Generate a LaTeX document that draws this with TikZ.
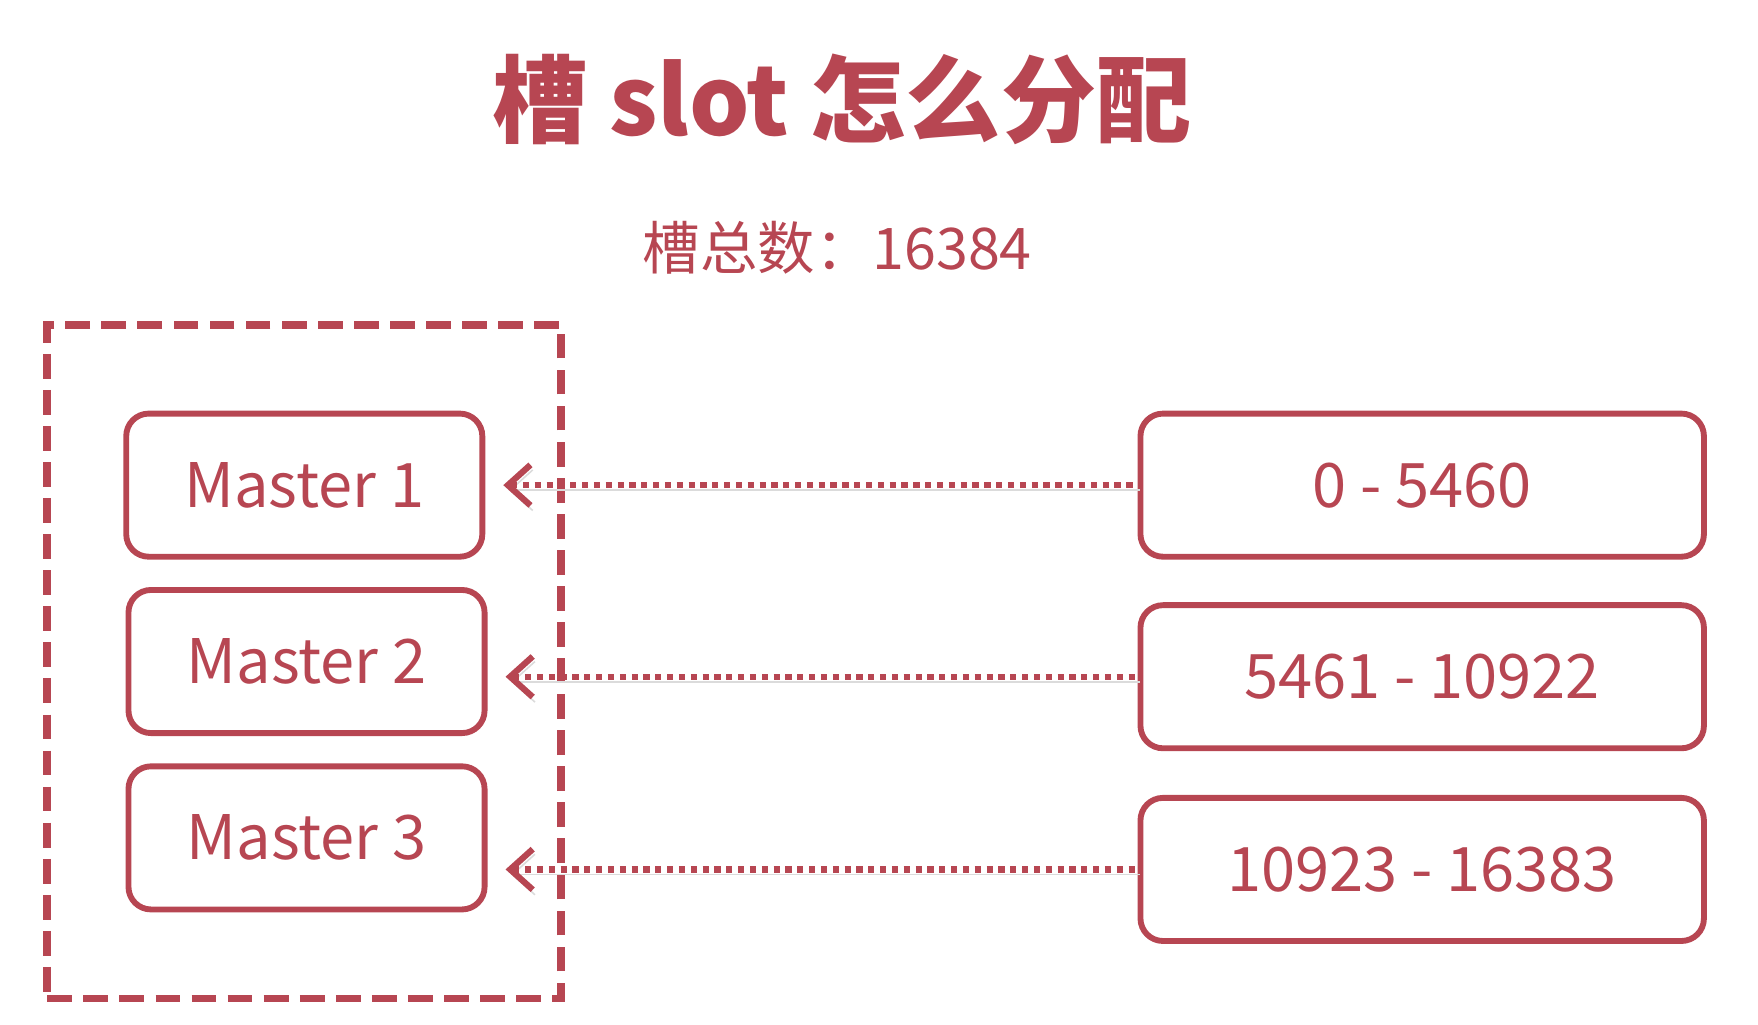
\documentclass[tikz,border=0pt]{standalone}
\usepackage{fontspec}
\setmainfont{Noto Sans CJK SC}
\usetikzlibrary{arrows.meta}
\definecolor{slotred}{RGB}{183,70,82}
\begin{document}
\begin{tikzpicture}
    [pre/.style={<-,shorten <=0.16cm,>={Straight Barb[length=0.2cm,width=0.36cm]},line width=0.055cm,dash pattern=on 0.055cm off 0.05cm,draw=slotred,
       preaction={draw=black!14,transform canvas={xshift=0.02cm,yshift=-0.045cm}}},
     master/.style={shape=rectangle,rounded corners=0.2cm,draw=slotred,line width=0.052cm,minimum width=3.16cm,minimum height=1.27cm,text=slotred,font=\fontsize{15.5}{19}\selectfont},
     slotrange/.style={master,minimum width=5.0cm}]
    \useasboundingbox (0,0) rectangle (15.6,-9.09);
    \node (title) [text=slotred,font=\fontsize{24}{29}\selectfont\bfseries] at (7.47,-0.88) {槽 slot 怎么分配};
    \node (total) [text=slotred,font=\fontsize{14.5}{18}\selectfont] at (7.43,-2.20) {槽总数：16384};
    \node (group) [shape=rectangle,draw=slotred,line width=0.07cm,dash pattern=on 0.22cm off 0.1cm,minimum width=4.56cm,minimum height=5.98cm] at (2.70,-5.87) {};
    \node (M1) [master] at (2.70,-4.305) {Master 1};
    \node (M2) [master] at (2.72,-5.87) {Master 2};
    \node (M3) [master] at (2.72,-7.435) {Master 3};
    \node (R1) [slotrange] at (12.62,-4.305) {0 - 5460};
    \node (R2) [slotrange] at (12.62,-6.005) {5461 - 10922};
    \node (R3) [slotrange] at (12.62,-7.715) {10923 - 16383};
    \draw [pre] (R1.west -| M1.east) -- (R1.west);
    \draw [pre] (R2.west -| M2.east) -- (R2.west);
    \draw [pre] (R3.west -| M3.east) -- (R3.west);
  \end{tikzpicture}
\end{document}
